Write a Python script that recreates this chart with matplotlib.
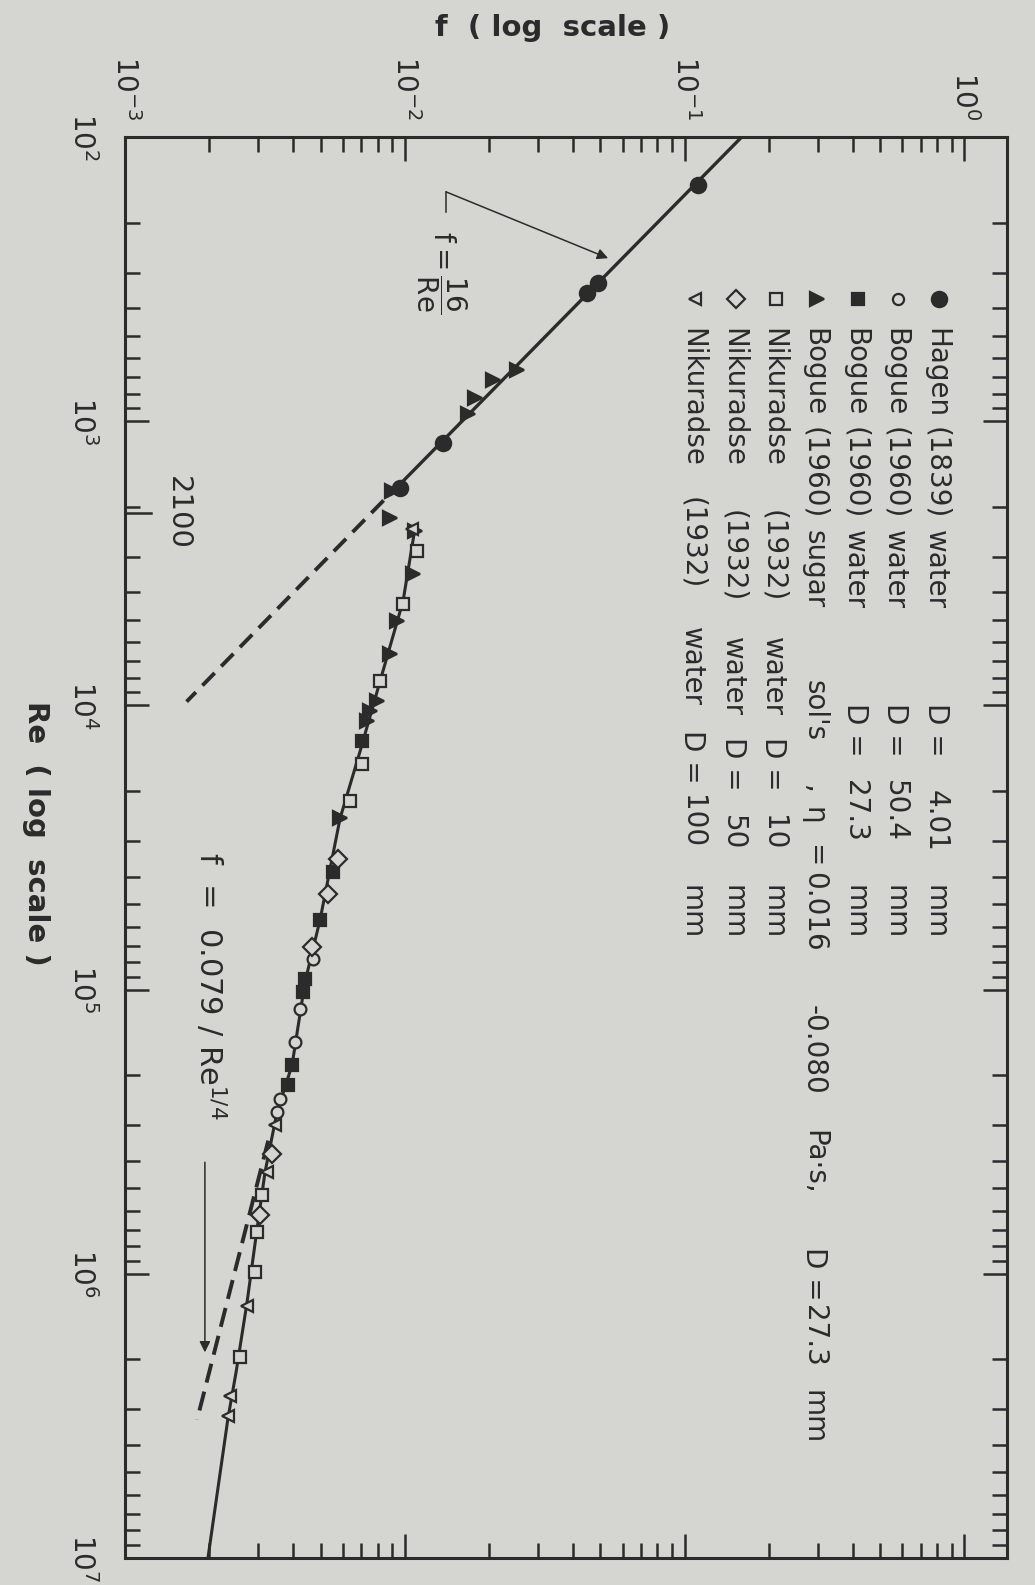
import numpy as np
import matplotlib
matplotlib.use("Agg")
import matplotlib.pyplot as plt
from matplotlib import transforms
from matplotlib.ticker import LogLocator, NullFormatter

plt.rcParams['font.family'] = ['DejaVu Sans']
plt.rcParams['mathtext.fontset'] = 'dejavusans'

# ----- Configuration -----
FIG_W, FIG_H = 1035, 1585
PAPER = '#d5d6d1'
INK = '#2b2b2b'
AX_LEFT, AX_RIGHT, AX_TOP, AX_BOTTOM = 125, 1007, 137, 1558  # pixels
# --------------------------

# lines (Re, f)
laminar_re = [100, 1800]
laminar_f = [0.16, 0.0089]
laminar_ext_re = [1900, 9700]
laminar_ext_f = [0.0084, 0.00166]
turb_re = [2373, 4291, 8214, 14510, 24980, 56760, 93860, 184200, 269700,
           439000, 775000, 1261000, 2227000, 3210000, 10000000]
turb_f = [0.01088, 0.00986, 0.00816, 0.00692, 0.00587, 0.00498, 0.00440,
          0.003955, 0.003494, 0.003165, 0.00292, 0.00273, 0.002493,
          0.002335, 0.001979]
blasius_re = [340000, 3260000]
blasius_f = [0.00325, 0.00181]

# measured points (Re, f)
hagen_re = [148, 327, 355, 1190, 1714]
hagen_f = [0.1118, 0.0491, 0.0449, 0.0137, 0.00962]
bogue50_re = [77880, 116800, 152800, 242700, 269700]
bogue50_f = [0.0047, 0.004223, 0.004053, 0.003583, 0.003494]
bogue27_re = [13370, 38420, 56760, 91600, 101800, 184200, 216600]
bogue27_f = [0.00704, 0.005542, 0.00498, 0.004401, 0.00433, 0.003955, 0.003827]
sugar_re = [663, 719, 826, 940, 1756, 2188, 2431, 3446, 5047, 6598, 9665,
            10480, 11370, 24980]
sugar_f = [0.02521, 0.02069, 0.01784, 0.01684, 0.00901, 0.00886, 0.01088,
           0.01071, 0.00939, 0.00886, 0.00796, 0.00751, 0.00733, 0.00587]
nik10_re = [2859, 4397, 8214, 16120, 21770, 529000, 714000, 989000, 1970000]
nik10_f = [0.01107, 0.00986, 0.00816, 0.00704, 0.00637, 0.00309, 0.00296,
           0.00292, 0.002577]
nik50_re = [34580, 45940, 70660, 379300, 622600]
nik50_f = [0.005775, 0.005318, 0.004662, 0.003355, 0.00304]
nik100_re = [2392, 299700, 439000, 1293000, 2684000, 3157000]
nik100_f = [0.01062, 0.003438, 0.003219, 0.00273, 0.002373, 0.002335]

f_ticks = [1e-3, 1e-2, 1e-1, 1e0]
re_ticks = [1e2, 1e3, 1e4, 1e5, 1e6, 1e7]
RE_CRIT = 2100

# legend: marker style, then text pieces (text, start pixel along the line)
legend_rows = [
    (dict(marker='o', ms=11, mfc=INK),
     [("Hagen", 328), ("(1839)", 427), ("water", 530), ("D =", 703), ("4.01", 790), ("mm", 885)]),
    (dict(marker='o', ms=8, mfc=PAPER),
     [("Bogue", 328), ("(1960)", 427), ("water", 530), ("D =", 703), ("50.4", 780), ("mm", 885)]),
    (dict(marker='s', ms=9, mfc=INK),
     [("Bogue", 328), ("(1960)", 427), ("water", 530), ("D =", 703), ("27.3", 780), ("mm", 885)]),
    (dict(marker='>', ms=10, mfc=INK),
     [("Bogue", 328), ("(1960)", 427), ("sugar", 530), ("sol's", 680), (",", 785), ("η", 807),
      ("=", 845), ("0.016", 872), ("-0.080", 1005), ("Pa·s,", 1130), ("D =", 1247),
      ("27.3", 1305), ("mm", 1390)]),
    (dict(marker='s', ms=8.5, mfc=PAPER),
     [("Nikuradse", 328), ("(1932)", 510), ("water", 637), ("D =", 737), ("10", 815), ("mm", 885)]),
    (dict(marker='D', ms=9, mfc=PAPER),
     [("Nikuradse", 328), ("(1932)", 510), ("water", 637), ("D =", 737), ("50", 815), ("mm", 885)]),
    (dict(marker='<', ms=8.5, mfc=PAPER),
     [("Nikuradse", 328), ("(1932)", 497), ("water", 627), ("D =", 730), ("100", 795), ("mm", 885)]),
]
legend_cols = [939, 898, 858, 817, 776, 736, 695]
LEGEND_MARK_Y = 299


def px(x, y):
    # pixel position on the page -> figure fraction
    return x / FIG_W, 1 - y / FIG_H


fig = plt.figure(figsize=(FIG_W / 100, FIG_H / 100), dpi=100, facecolor=PAPER)
x0, y1 = px(AX_LEFT, AX_TOP)
x1, y0 = px(AX_RIGHT, AX_BOTTOM)
ax = fig.add_axes([x0, y0, x1 - x0, y1 - y0], facecolor=PAPER)

# f runs across the page, Re runs down it (page is printed sideways)
ax.set_xscale('log')
ax.set_yscale('log')
ax.set_xlim(1e-3, 1.42)
ax.set_ylim(1e7, 1e2)

for s in ax.spines.values():
    s.set_linewidth(2.2)
    s.set_color(INK)

ax.set_xticks(f_ticks)
ax.set_yticks(re_ticks)
ax.xaxis.set_minor_locator(LogLocator(10, subs=np.arange(2, 10)))
ax.yaxis.set_minor_locator(LogLocator(10, subs=np.arange(2, 10)))
ax.xaxis.set_minor_formatter(NullFormatter())
ax.yaxis.set_minor_formatter(NullFormatter())
ax.xaxis.set_ticks_position('both')
ax.yaxis.set_ticks_position('both')
ax.tick_params(which='both', direction='in', width=1.8, color=INK, labelcolor=INK)
ax.tick_params(which='major', length=17)
ax.tick_params(which='minor', length=11)
ax.tick_params(axis='x', labeltop=True, labelbottom=False, labelrotation=-90, pad=12, labelsize=20)
ax.tick_params(axis='y', labelleft=True, labelright=False, labelrotation=-90, pad=20, labelsize=20)
plt.setp(ax.get_yticklabels(), va='center')

# extra mark at the critical Reynolds number
crit_tr = transforms.blended_transform_factory(ax.transAxes, ax.transData)
ax.plot([0, 0.03], [RE_CRIT, RE_CRIT], color=INK, lw=1.8, transform=crit_tr, clip_on=False)
ax.text(0.06, RE_CRIT, "2100", rotation=-90, ha='center', va='center',
        fontsize=21, color=INK, transform=crit_tr)

# correlation lines
ax.plot(laminar_f, laminar_re, color=INK, lw=2.4, zorder=2)
ax.plot(laminar_ext_f, laminar_ext_re, color=INK, lw=2.8, ls=(0, (4.5, 2.4)), zorder=2)
ax.plot(turb_f, turb_re, color=INK, lw=2.2, zorder=2)
ax.plot(blasius_f, blasius_re, color=INK, lw=2.8, ls=(0, (5, 2.4)), zorder=2)

# data points
mk = dict(ls='none', mec=INK, mew=1.6, zorder=3)
ax.plot(hagen_f, hagen_re, marker='o', ms=11, mfc=INK, **mk)
ax.plot(bogue50_f, bogue50_re, marker='o', ms=8.5, mfc=PAPER, **mk)
ax.plot(bogue27_f, bogue27_re, marker='s', ms=9, mfc=INK, **mk)
ax.plot(sugar_f, sugar_re, marker='>', ms=10, mfc=INK, **mk)
ax.plot(nik10_f, nik10_re, marker='s', ms=9, mfc=PAPER, **mk)
ax.plot(nik50_f, nik50_re, marker='D', ms=9.5, mfc=PAPER, **mk)
ax.plot(nik100_f, nik100_re, marker='<', ms=9, mfc=PAPER, **mk)

# legend, written sideways like the page
for col, (style, pieces) in zip(legend_cols, legend_rows):
    mx, my = px(col, LEGEND_MARK_Y)
    ax.plot([mx], [my], ls='none', mec=INK, mew=1.6, transform=fig.transFigure,
            clip_on=False, **style)
    for txt, ypos in pieces:
        tx, ty = px(col - 3, ypos)
        fig.text(tx, ty, txt, rotation=-90, rotation_mode='anchor', ha='left',
                 va='center', fontsize=20, color=INK)

# f = 16/Re label with its leader
fx, fy = px(441, 272)
fig.text(fx, fy, r'$\mathrm{f}=\dfrac{16}{\mathrm{Re}}$', rotation=-90, ha='center',
         va='center', fontsize=20, color=INK)
ax.plot([0.01405, 0.01405], [184, 156], color=INK, lw=1.1)
ax.annotate('', xy=(0.0533, 267), xytext=(0.01405, 156),
            arrowprops=dict(arrowstyle='-|>', lw=1.1, color=INK,
                            shrinkA=0, shrinkB=0, mutation_scale=16))

# Blasius label with its arrow
bx, by = px(210, 852)
fig.text(bx, by, r'f  =  0.079 / Re$^{1/4}$', rotation=-90, rotation_mode='anchor',
         ha='left', va='center', fontsize=22, color=INK)
ax.annotate('', xy=(0.00193, 1.89e6), xytext=(0.00193, 4.05e5),
            arrowprops=dict(arrowstyle='-|>', lw=1.1, color=INK,
                            shrinkA=0, shrinkB=0, mutation_scale=16))

# axis titles
tx, ty = px(553, 28)
fig.text(tx, ty, "f  ( log  scale )", ha='center', va='center', fontsize=21,
         fontweight='bold', color=INK)
tx, ty = px(36, 833)
fig.text(tx, ty, "Re  ( log  scale )", rotation=-90, ha='center', va='center',
         fontsize=21, fontweight='bold', color=INK)

fig.savefig("out.png", dpi=100, facecolor=PAPER)
